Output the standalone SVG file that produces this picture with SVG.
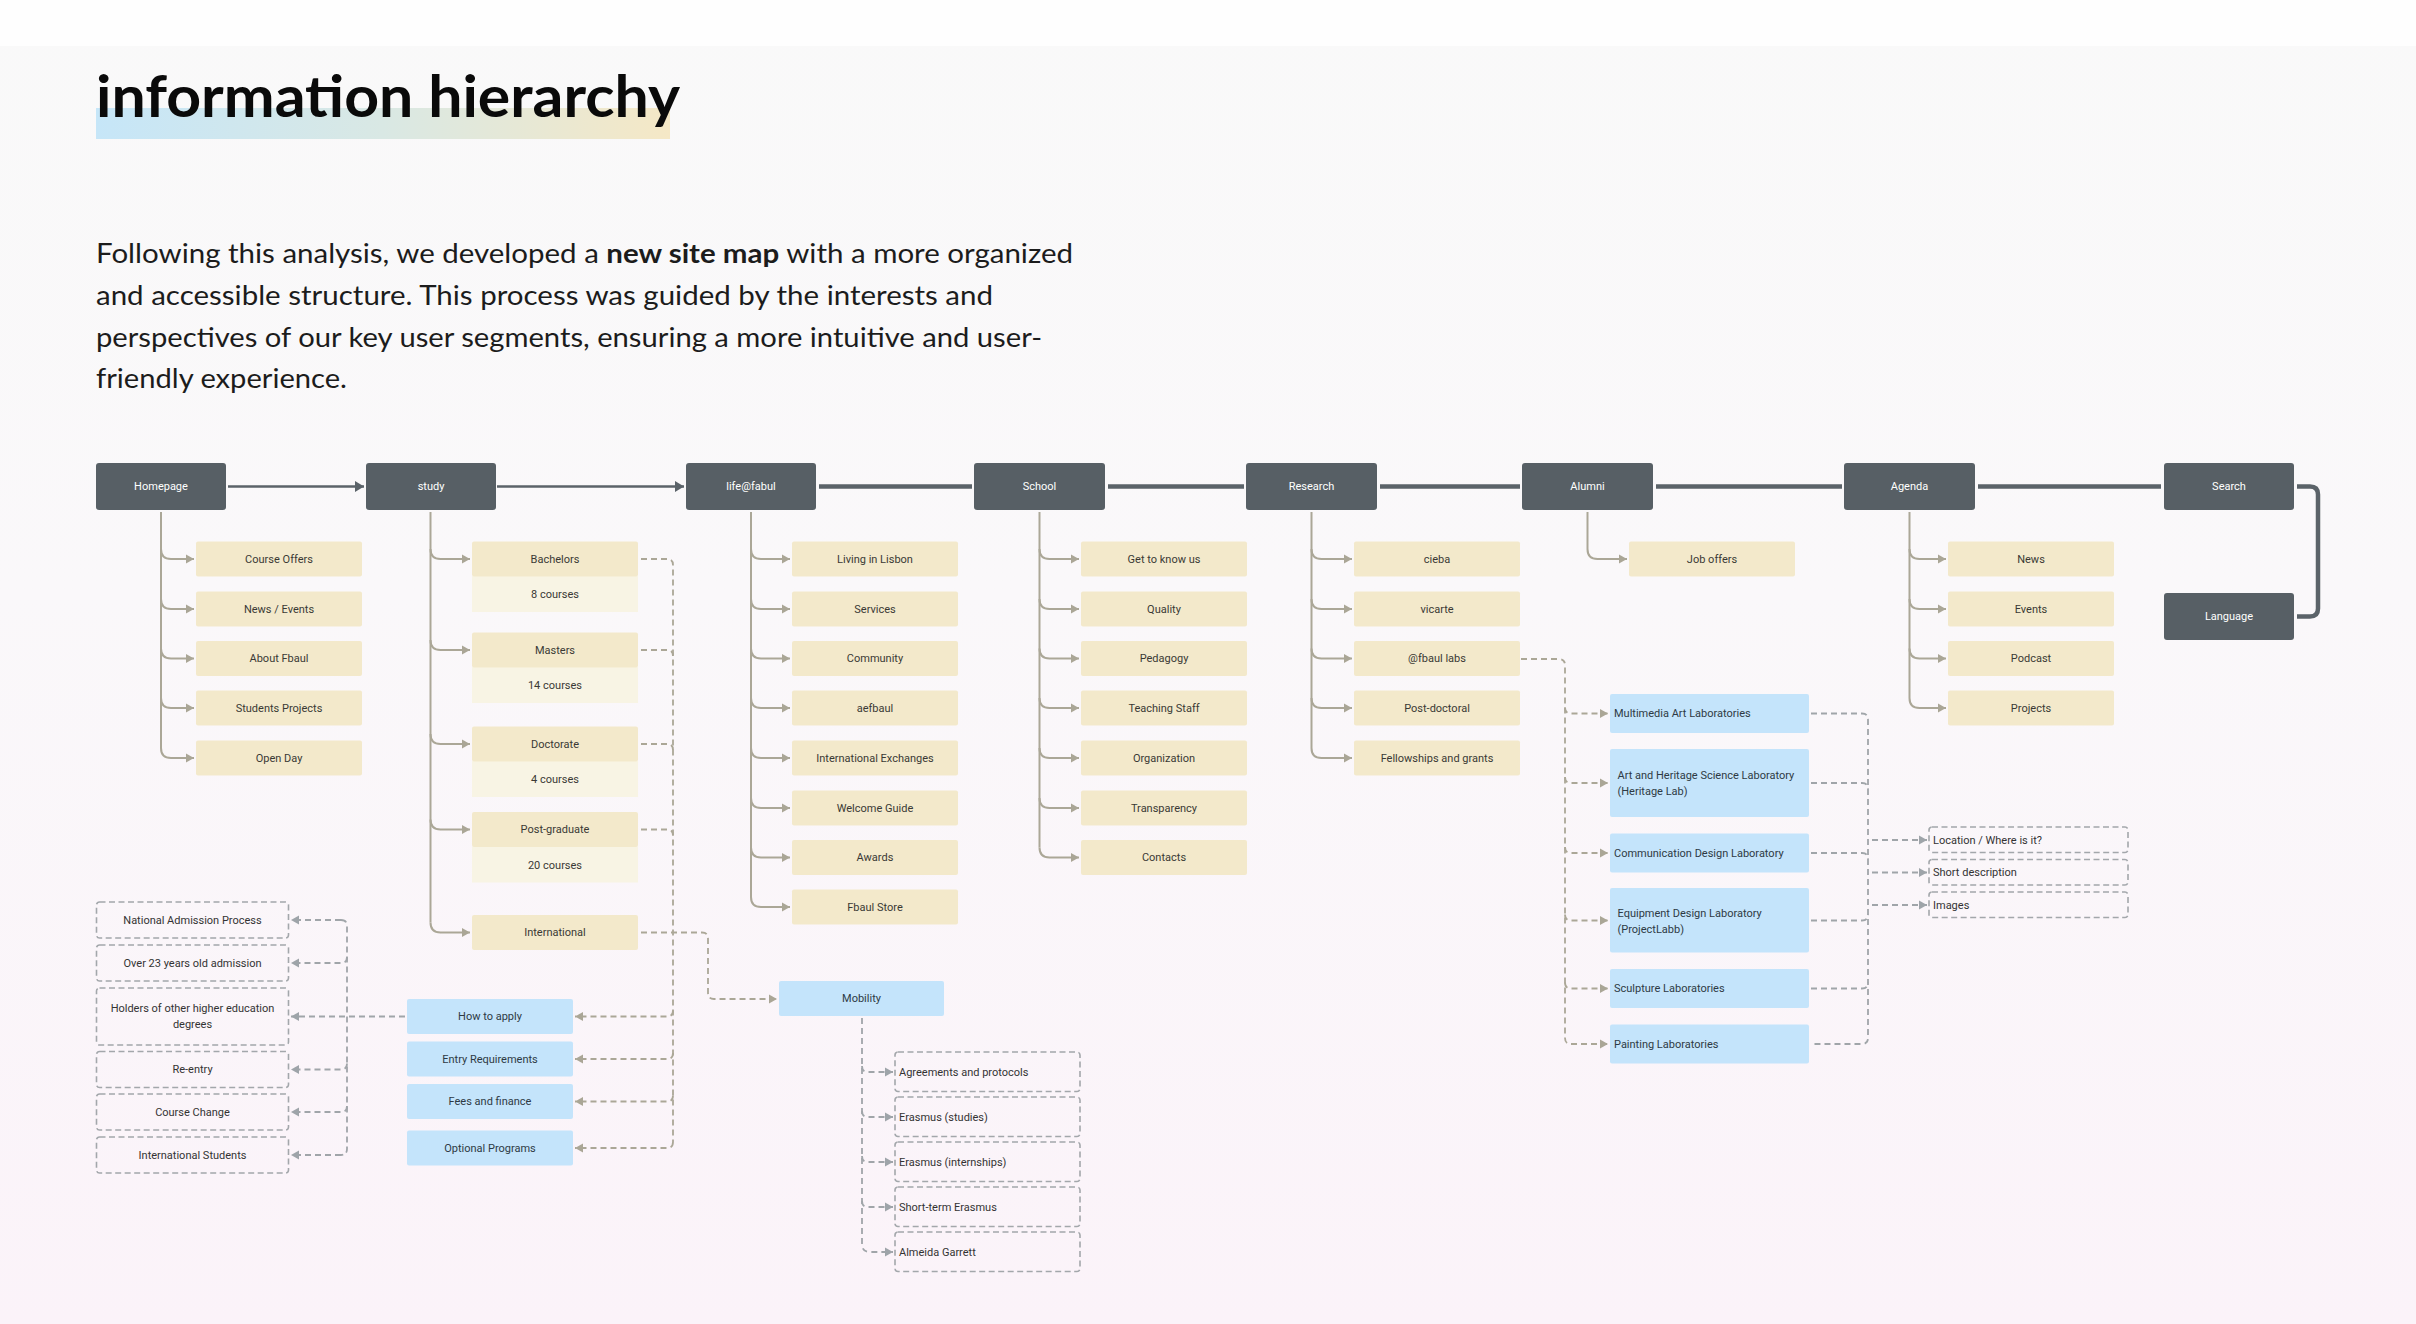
<svg xmlns="http://www.w3.org/2000/svg" width="2416" height="1324" viewBox="0 0 2416 1324">
<defs>
<linearGradient id="bg" x1="0" y1="0" x2="0" y2="1">
<stop offset="0" stop-color="#f9f9f9"/>
<stop offset="0.45" stop-color="#faf8fa"/>
<stop offset="1" stop-color="#fbf3f9"/>
</linearGradient>
<linearGradient id="hl" x1="0" y1="0" x2="1" y2="0">
<stop offset="0" stop-color="#c6e6f8"/>
<stop offset="0.5" stop-color="#d9e8e4"/>
<stop offset="1" stop-color="#f5e8c6"/>
</linearGradient>
<marker id="aDark" markerUnits="userSpaceOnUse" markerWidth="10" markerHeight="11" refX="9" refY="5.5" orient="auto"><path d="M0,0 L9,5.5 L0,11 z" fill="#5b6369"/></marker>
<marker id="aTan" markerUnits="userSpaceOnUse" markerWidth="9" markerHeight="10" refX="8" refY="5" orient="auto"><path d="M0,0.5 L8,5 L0,9.5 z" fill="#aaa696"/></marker>
<marker id="aGray" markerUnits="userSpaceOnUse" markerWidth="9" markerHeight="10" refX="8" refY="5" orient="auto"><path d="M0,0.5 L8,5 L0,9.5 z" fill="#9ea4a9"/></marker>
<style>
.n rect{fill:#575f65}
.n text{fill:#ffffff;font:11px Roboto,"Liberation Sans",sans-serif;text-anchor:middle;dominant-baseline:central}
.b rect{fill:#f3e9cb}
.b rect.s{fill:#f8f4e4}
.b text,.bl text,.d text{fill:#3a3935;font:11px Roboto,"Liberation Sans",sans-serif;text-anchor:middle;dominant-baseline:central}
.bl rect{fill:#c4e4fb}
.bl text{fill:#2e3a44}
.bl text.l,.d text.l{text-anchor:start}
.d rect{fill:none;stroke:#a3a7ab;stroke-width:1.6;stroke-dasharray:6 3.5}
.d text{fill:#333}
.br{fill:none;stroke:#aba797;stroke-width:2}
.dt{fill:none;stroke:#aba797;stroke-width:1.8;stroke-dasharray:6 4}
.dg{fill:none;stroke:#a0a5a9;stroke-width:1.8;stroke-dasharray:6 4}
.t1{fill:none;stroke:#5b6369;stroke-width:2.6}
.t2{fill:none;stroke:#5b6369;stroke-width:4.5}
.title{font-family:Lato,"Liberation Sans",sans-serif;font-weight:700;font-size:58px;fill:#0a0a0a}
.para{font-family:Lato,"Liberation Sans",sans-serif;font-size:26px;fill:#1c1c1c}
</style>
</defs>
<rect x="0" y="0" width="2416" height="1324" fill="url(#bg)"/>
<rect x="0" y="0" width="2416" height="46" fill="#fefefe"/>

<g id="heading">
<rect x="96" y="108" width="574" height="31" fill="url(#hl)"/>
<text class="title" x="96" y="117" textLength="584" lengthAdjust="spacingAndGlyphs">information hierarchy</text>
<text class="para" x="96" y="263" textLength="977" lengthAdjust="spacingAndGlyphs">Following this analysis, we developed a <tspan font-weight="700">new site map</tspan> with a more organized</text>
<text class="para" x="96" y="305" textLength="897" lengthAdjust="spacingAndGlyphs">and accessible structure. This process was guided by the interests and</text>
<text class="para" x="96" y="347" textLength="946" lengthAdjust="spacingAndGlyphs">perspectives of our key user segments, ensuring a more intuitive and user-</text>
<text class="para" x="96" y="388" textLength="251" lengthAdjust="spacingAndGlyphs">friendly experience.</text>
</g>

<g id="connectors">
<!-- top level -->
<path class="t1" d="M228,486.5 H364" marker-end="url(#aDark)"/>
<path class="t1" d="M497,486.5 H684" marker-end="url(#aDark)"/>
<path class="t2" d="M819,486.5 H972"/>
<path class="t2" d="M1108,486.5 H1244"/>
<path class="t2" d="M1380,486.5 H1520"/>
<path class="t2" d="M1656,486.5 H1842"/>
<path class="t2" d="M1978,486.5 H2161"/>
<path class="t2" d="M2297,486.5 H2310 Q2318,486.5 2318,494.5 V608.5 Q2318,616.5 2310,616.5 H2297"/>
<!-- Homepage branches -->
<path class="br" d="M161,512 V748"/>
<path class="br" d="M161,549 Q161,559 171,559 H194" marker-end="url(#aTan)"/>
<path class="br" d="M161,599 Q161,609 171,609 H194" marker-end="url(#aTan)"/>
<path class="br" d="M161,648.5 Q161,658.5 171,658.5 H194" marker-end="url(#aTan)"/>
<path class="br" d="M161,698 Q161,708 171,708 H194" marker-end="url(#aTan)"/>
<path class="br" d="M161,748 Q161,758 171,758 H194" marker-end="url(#aTan)"/>
<!-- study branches -->
<path class="br" d="M430.5,512 V922.5"/>
<path class="br" d="M430.5,549 Q430.5,559 440.5,559 H470" marker-end="url(#aTan)"/>
<path class="br" d="M430.5,640 Q430.5,650 440.5,650 H470" marker-end="url(#aTan)"/>
<path class="br" d="M430.5,734 Q430.5,744 440.5,744 H470" marker-end="url(#aTan)"/>
<path class="br" d="M430.5,819.5 Q430.5,829.5 440.5,829.5 H470" marker-end="url(#aTan)"/>
<path class="br" d="M430.5,922.5 Q430.5,932.5 440.5,932.5 H470" marker-end="url(#aTan)"/>
<!-- life branches -->
<path class="br" d="M751,512 V897"/>
<path class="br" d="M751,549 Q751,559 761,559 H790" marker-end="url(#aTan)"/>
<path class="br" d="M751,599 Q751,609 761,609 H790" marker-end="url(#aTan)"/>
<path class="br" d="M751,648.5 Q751,658.5 761,658.5 H790" marker-end="url(#aTan)"/>
<path class="br" d="M751,698 Q751,708 761,708 H790" marker-end="url(#aTan)"/>
<path class="br" d="M751,748 Q751,758 761,758 H790" marker-end="url(#aTan)"/>
<path class="br" d="M751,798 Q751,808 761,808 H790" marker-end="url(#aTan)"/>
<path class="br" d="M751,847.5 Q751,857.5 761,857.5 H790" marker-end="url(#aTan)"/>
<path class="br" d="M751,897 Q751,907 761,907 H790" marker-end="url(#aTan)"/>
<!-- school branches -->
<path class="br" d="M1039.5,512 V847.5"/>
<path class="br" d="M1039.5,549 Q1039.5,559 1049.5,559 H1079" marker-end="url(#aTan)"/>
<path class="br" d="M1039.5,599 Q1039.5,609 1049.5,609 H1079" marker-end="url(#aTan)"/>
<path class="br" d="M1039.5,648.5 Q1039.5,658.5 1049.5,658.5 H1079" marker-end="url(#aTan)"/>
<path class="br" d="M1039.5,698 Q1039.5,708 1049.5,708 H1079" marker-end="url(#aTan)"/>
<path class="br" d="M1039.5,748 Q1039.5,758 1049.5,758 H1079" marker-end="url(#aTan)"/>
<path class="br" d="M1039.5,798 Q1039.5,808 1049.5,808 H1079" marker-end="url(#aTan)"/>
<path class="br" d="M1039.5,847.5 Q1039.5,857.5 1049.5,857.5 H1079" marker-end="url(#aTan)"/>
<!-- research branches -->
<path class="br" d="M1311.5,512 V748"/>
<path class="br" d="M1311.5,549 Q1311.5,559 1321.5,559 H1352" marker-end="url(#aTan)"/>
<path class="br" d="M1311.5,599 Q1311.5,609 1321.5,609 H1352" marker-end="url(#aTan)"/>
<path class="br" d="M1311.5,648.5 Q1311.5,658.5 1321.5,658.5 H1352" marker-end="url(#aTan)"/>
<path class="br" d="M1311.5,698 Q1311.5,708 1321.5,708 H1352" marker-end="url(#aTan)"/>
<path class="br" d="M1311.5,748 Q1311.5,758 1321.5,758 H1352" marker-end="url(#aTan)"/>
<!-- alumni branch -->
<path class="br" d="M1587.5,512 V549 Q1587.5,559 1597.5,559 H1627" marker-end="url(#aTan)"/>
<!-- agenda branches -->
<path class="br" d="M1909.5,512 V698"/>
<path class="br" d="M1909.5,549 Q1909.5,559 1919.5,559 H1946" marker-end="url(#aTan)"/>
<path class="br" d="M1909.5,599 Q1909.5,609 1919.5,609 H1946" marker-end="url(#aTan)"/>
<path class="br" d="M1909.5,648.5 Q1909.5,658.5 1919.5,658.5 H1946" marker-end="url(#aTan)"/>
<path class="br" d="M1909.5,698 Q1909.5,708 1919.5,708 H1946" marker-end="url(#aTan)"/>
<!-- study dashed to blue boxes -->
<path class="dt" d="M641,559 H667 Q673,559 673,565 V1142"/>
<path class="dt" d="M641,650 H667 Q673,650 673,656"/>
<path class="dt" d="M641,744 H667 Q673,744 673,750"/>
<path class="dt" d="M641,829.5 H667 Q673,829.5 673,835.5"/>
<path class="dt" d="M673,1010.5 Q673,1016.5 667,1016.5 H575" marker-end="url(#aTan)"/>
<path class="dt" d="M673,1053 Q673,1059 667,1059 H575" marker-end="url(#aTan)"/>
<path class="dt" d="M673,1095.5 Q673,1101.5 667,1101.5 H575" marker-end="url(#aTan)"/>
<path class="dt" d="M673,1142 Q673,1148 667,1148 H575" marker-end="url(#aTan)"/>
<!-- International to Mobility -->
<path class="dt" d="M641,932.5 H702 Q708,932.5 708,938.5 V993 Q708,999 714,999 H777" marker-end="url(#aTan)"/>
<!-- How to apply to admission boxes -->
<path class="dg" d="M405,1016.5 H291" marker-end="url(#aGray)"/>
<path class="dg" d="M341,920 Q347,920 347,926 V1149 Q347,1155 341,1155"/>
<path class="dg" d="M341,920 H291" marker-end="url(#aGray)"/>
<path class="dg" d="M347,957 Q347,963 341,963 H291" marker-end="url(#aGray)"/>
<path class="dg" d="M347,1063.5 Q347,1069.5 341,1069.5 H291" marker-end="url(#aGray)"/>
<path class="dg" d="M347,1106 Q347,1112 341,1112 H291" marker-end="url(#aGray)"/>
<path class="dg" d="M341,1155 H291" marker-end="url(#aGray)"/>
<!-- Mobility children -->
<path class="dg" d="M862,1018 V1244 Q862,1252 870,1252 H893" marker-end="url(#aGray)"/>
<path class="dg" d="M862,1066 Q862,1072 868,1072 H893" marker-end="url(#aGray)"/>
<path class="dg" d="M862,1111 Q862,1117 868,1117 H893" marker-end="url(#aGray)"/>
<path class="dg" d="M862,1156 Q862,1162 868,1162 H893" marker-end="url(#aGray)"/>
<path class="dg" d="M862,1201 Q862,1207 868,1207 H893" marker-end="url(#aGray)"/>
<!-- labs -->
<path class="dt" d="M1521,659 H1559 Q1565,659 1565,665 V1038 Q1565,1044 1571,1044 H1608" marker-end="url(#aTan)"/>
<path class="dt" d="M1565,707.5 Q1565,713.5 1571,713.5 H1608" marker-end="url(#aTan)"/>
<path class="dt" d="M1565,777 Q1565,783 1571,783 H1608" marker-end="url(#aTan)"/>
<path class="dt" d="M1565,847 Q1565,853 1571,853 H1608" marker-end="url(#aTan)"/>
<path class="dt" d="M1565,914.5 Q1565,920.5 1571,920.5 H1608" marker-end="url(#aTan)"/>
<path class="dt" d="M1565,982.5 Q1565,988.5 1571,988.5 H1608" marker-end="url(#aTan)"/>
<!-- labs to details -->
<path class="dg" d="M1811,713.5 H1862 Q1868,713.5 1868,719.5 V1038 Q1868,1044 1862,1044 H1811"/>
<path class="dg" d="M1811,783 H1862 Q1868,783 1868,789"/>
<path class="dg" d="M1811,853 H1862 Q1868,853 1868,859"/>
<path class="dg" d="M1811,920.5 H1862 Q1868,920.5 1868,914.5"/>
<path class="dg" d="M1811,988.5 H1862 Q1868,988.5 1868,982.5"/>
<path class="dg" d="M1872,840 H1927" marker-end="url(#aGray)"/>
<path class="dg" d="M1872,872.5 H1927" marker-end="url(#aGray)"/>
<path class="dg" d="M1872,905 H1927" marker-end="url(#aGray)"/>
</g>

<!-- top level nodes -->
<g id="homepage" class="n"><rect x="96" y="463" width="130" height="47" rx="3"/><text x="161" y="486.5">Homepage</text></g>
<g id="study" class="n"><rect x="366" y="463" width="130" height="47" rx="3"/><text x="431" y="486.5">study</text></g>
<g id="life" class="n"><rect x="686" y="463" width="130" height="47" rx="3"/><text x="751" y="486.5">life@fabul</text></g>
<g id="school" class="n"><rect x="974" y="463" width="131" height="47" rx="3"/><text x="1039.5" y="486.5">School</text></g>
<g id="research" class="n"><rect x="1246" y="463" width="131" height="47" rx="3"/><text x="1311.5" y="486.5">Research</text></g>
<g id="alumni" class="n"><rect x="1522" y="463" width="131" height="47" rx="3"/><text x="1587.5" y="486.5">Alumni</text></g>
<g id="agenda" class="n"><rect x="1844" y="463" width="131" height="47" rx="3"/><text x="1909.5" y="486.5">Agenda</text></g>
<g id="search" class="n"><rect x="2164" y="463" width="130" height="47" rx="3"/><text x="2229" y="486.5">Search</text></g>
<g id="language" class="n"><rect x="2164" y="593" width="130" height="47" rx="3"/><text x="2229" y="616.5">Language</text></g>

<!-- Homepage children -->
<g id="course-offers" class="b"><rect x="196" y="541.5" width="166" height="35" rx="2"/><text x="279" y="559">Course Offers</text></g>
<g id="news-events" class="b"><rect x="196" y="591.5" width="166" height="35" rx="2"/><text x="279" y="609">News / Events</text></g>
<g id="about-fbaul" class="b"><rect x="196" y="641" width="166" height="35" rx="2"/><text x="279" y="658.5">About Fbaul</text></g>
<g id="students-projects" class="b"><rect x="196" y="690.5" width="166" height="35" rx="2"/><text x="279" y="708">Students Projects</text></g>
<g id="open-day" class="b"><rect x="196" y="740.5" width="166" height="35" rx="2"/><text x="279" y="758">Open Day</text></g>

<!-- study children -->
<g id="bachelors" class="b"><rect class="s" x="472" y="576" width="166" height="36"/><rect x="472" y="541.5" width="166" height="35" rx="2"/><text x="555" y="559">Bachelors</text><text x="555" y="594.5">8 courses</text></g>
<g id="masters" class="b"><rect class="s" x="472" y="667" width="166" height="36"/><rect x="472" y="632.5" width="166" height="35" rx="2"/><text x="555" y="650">Masters</text><text x="555" y="685.5">14 courses</text></g>
<g id="doctorate" class="b"><rect class="s" x="472" y="761" width="166" height="36"/><rect x="472" y="726.5" width="166" height="35" rx="2"/><text x="555" y="744">Doctorate</text><text x="555" y="779.5">4 courses</text></g>
<g id="post-graduate" class="b"><rect class="s" x="472" y="846.5" width="166" height="36"/><rect x="472" y="812" width="166" height="35" rx="2"/><text x="555" y="829.5">Post-graduate</text><text x="555" y="865">20 courses</text></g>
<g id="international" class="b"><rect x="472" y="915" width="166" height="35" rx="2"/><text x="555" y="932.5">International</text></g>

<!-- study blue -->
<g id="how-to-apply" class="bl"><rect x="407" y="999" width="166" height="35" rx="2"/><text x="490" y="1016.5">How to apply</text></g>
<g id="entry-requirements" class="bl"><rect x="407" y="1041.5" width="166" height="35" rx="2"/><text x="490" y="1059">Entry Requirements</text></g>
<g id="fees-finance" class="bl"><rect x="407" y="1084" width="166" height="35" rx="2"/><text x="490" y="1101.5">Fees and finance</text></g>
<g id="optional-programs" class="bl"><rect x="407" y="1130.5" width="166" height="35" rx="2"/><text x="490" y="1148">Optional Programs</text></g>

<!-- admission boxes -->
<g id="national-admission" class="d"><rect x="96.5" y="902" width="192" height="36" rx="3"/><text x="192.5" y="920">National Admission Process</text></g>
<g id="over-23" class="d"><rect x="96.5" y="945" width="192" height="36" rx="3"/><text x="192.5" y="963">Over 23 years old admission</text></g>
<g id="holders" class="d"><rect x="96.5" y="988" width="192" height="57" rx="3"/><text x="192.5" y="1008.5">Holders of other higher education</text><text x="192.5" y="1024.5">degrees</text></g>
<g id="re-entry" class="d"><rect x="96.5" y="1051.5" width="192" height="36" rx="3"/><text x="192.5" y="1069.5">Re-entry</text></g>
<g id="course-change" class="d"><rect x="96.5" y="1094" width="192" height="36" rx="3"/><text x="192.5" y="1112">Course Change</text></g>
<g id="international-students" class="d"><rect x="96.5" y="1137" width="192" height="36" rx="3"/><text x="192.5" y="1155">International Students</text></g>

<!-- Mobility -->
<g id="mobility" class="bl"><rect x="779" y="981" width="165" height="35" rx="2"/><text x="861.5" y="998.5">Mobility</text></g>
<g id="agreements" class="d"><rect x="895" y="1052" width="185" height="39.5" rx="3"/><text class="l" x="899" y="1072">Agreements and protocols</text></g>
<g id="erasmus-studies" class="d"><rect x="895" y="1097" width="185" height="39.5" rx="3"/><text class="l" x="899" y="1117">Erasmus (studies)</text></g>
<g id="erasmus-internships" class="d"><rect x="895" y="1142" width="185" height="39.5" rx="3"/><text class="l" x="899" y="1162">Erasmus (internships)</text></g>
<g id="short-term-erasmus" class="d"><rect x="895" y="1187" width="185" height="39.5" rx="3"/><text class="l" x="899" y="1207">Short-term Erasmus</text></g>
<g id="almeida-garrett" class="d"><rect x="895" y="1232" width="185" height="39.5" rx="3"/><text class="l" x="899" y="1252">Almeida Garrett</text></g>

<!-- life children -->
<g id="living-lisbon" class="b"><rect x="792" y="541.5" width="166" height="35" rx="2"/><text x="875" y="559">Living in Lisbon</text></g>
<g id="services" class="b"><rect x="792" y="591.5" width="166" height="35" rx="2"/><text x="875" y="609">Services</text></g>
<g id="community" class="b"><rect x="792" y="641" width="166" height="35" rx="2"/><text x="875" y="658.5">Community</text></g>
<g id="aefbaul" class="b"><rect x="792" y="690.5" width="166" height="35" rx="2"/><text x="875" y="708">aefbaul</text></g>
<g id="intl-exchanges" class="b"><rect x="792" y="740.5" width="166" height="35" rx="2"/><text x="875" y="758">International Exchanges</text></g>
<g id="welcome-guide" class="b"><rect x="792" y="790.5" width="166" height="35" rx="2"/><text x="875" y="808">Welcome Guide</text></g>
<g id="awards" class="b"><rect x="792" y="840" width="166" height="35" rx="2"/><text x="875" y="857.5">Awards</text></g>
<g id="fbaul-store" class="b"><rect x="792" y="889.5" width="166" height="35" rx="2"/><text x="875" y="907">Fbaul Store</text></g>

<!-- school children -->
<g id="get-to-know" class="b"><rect x="1081" y="541.5" width="166" height="35" rx="2"/><text x="1164" y="559">Get to know us</text></g>
<g id="quality" class="b"><rect x="1081" y="591.5" width="166" height="35" rx="2"/><text x="1164" y="609">Quality</text></g>
<g id="pedagogy" class="b"><rect x="1081" y="641" width="166" height="35" rx="2"/><text x="1164" y="658.5">Pedagogy</text></g>
<g id="teaching-staff" class="b"><rect x="1081" y="690.5" width="166" height="35" rx="2"/><text x="1164" y="708">Teaching Staff</text></g>
<g id="organization" class="b"><rect x="1081" y="740.5" width="166" height="35" rx="2"/><text x="1164" y="758">Organization</text></g>
<g id="transparency" class="b"><rect x="1081" y="790.5" width="166" height="35" rx="2"/><text x="1164" y="808">Transparency</text></g>
<g id="contacts" class="b"><rect x="1081" y="840" width="166" height="35" rx="2"/><text x="1164" y="857.5">Contacts</text></g>

<!-- research children -->
<g id="cieba" class="b"><rect x="1354" y="541.5" width="166" height="35" rx="2"/><text x="1437" y="559">cieba</text></g>
<g id="vicarte" class="b"><rect x="1354" y="591.5" width="166" height="35" rx="2"/><text x="1437" y="609">vicarte</text></g>
<g id="fbaul-labs" class="b"><rect x="1354" y="641" width="166" height="35" rx="2"/><text x="1437" y="658.5">@fbaul labs</text></g>
<g id="post-doctoral" class="b"><rect x="1354" y="690.5" width="166" height="35" rx="2"/><text x="1437" y="708">Post-doctoral</text></g>
<g id="fellowships" class="b"><rect x="1354" y="740.5" width="166" height="35" rx="2"/><text x="1437" y="758">Fellowships and grants</text></g>

<!-- labs -->
<g id="multimedia-lab" class="bl"><rect x="1610" y="694" width="199" height="39" rx="2"/><text class="l" x="1614" y="713.5">Multimedia Art Laboratories</text></g>
<g id="heritage-lab" class="bl"><rect x="1610" y="749" width="199" height="68" rx="2"/><text class="l" x="1617.5" y="775.5">Art and Heritage Science Laboratory</text><text class="l" x="1617.5" y="791.5">(Heritage Lab)</text></g>
<g id="communication-lab" class="bl"><rect x="1610" y="833.5" width="199" height="39" rx="2"/><text class="l" x="1614" y="853">Communication Design Laboratory</text></g>
<g id="equipment-lab" class="bl"><rect x="1610" y="888" width="199" height="64.5" rx="2"/><text class="l" x="1617.5" y="913.5">Equipment Design Laboratory</text><text class="l" x="1617.5" y="929">(ProjectLabb)</text></g>
<g id="sculpture-lab" class="bl"><rect x="1610" y="969" width="199" height="39" rx="2"/><text class="l" x="1614" y="988.5">Sculpture Laboratories</text></g>
<g id="painting-lab" class="bl"><rect x="1610" y="1024.5" width="199" height="39" rx="2"/><text class="l" x="1614" y="1044">Painting Laboratories</text></g>

<!-- lab details -->
<g id="location" class="d"><rect x="1929" y="827" width="199" height="25.5" rx="3"/><text class="l" x="1933" y="840">Location / Where is it?</text></g>
<g id="short-description" class="d"><rect x="1929" y="859.5" width="199" height="25.5" rx="3"/><text class="l" x="1933" y="872.5">Short description</text></g>
<g id="images" class="d"><rect x="1929" y="892" width="199" height="25.5" rx="3"/><text class="l" x="1933" y="905">Images</text></g>

<!-- alumni / agenda children -->
<g id="job-offers" class="b"><rect x="1629" y="541.5" width="166" height="35" rx="2"/><text x="1712" y="559">Job offers</text></g>
<g id="news" class="b"><rect x="1948" y="541.5" width="166" height="35" rx="2"/><text x="2031" y="559">News</text></g>
<g id="events" class="b"><rect x="1948" y="591.5" width="166" height="35" rx="2"/><text x="2031" y="609">Events</text></g>
<g id="podcast" class="b"><rect x="1948" y="641" width="166" height="35" rx="2"/><text x="2031" y="658.5">Podcast</text></g>
<g id="projects" class="b"><rect x="1948" y="690.5" width="166" height="35" rx="2"/><text x="2031" y="708">Projects</text></g>
</svg>
